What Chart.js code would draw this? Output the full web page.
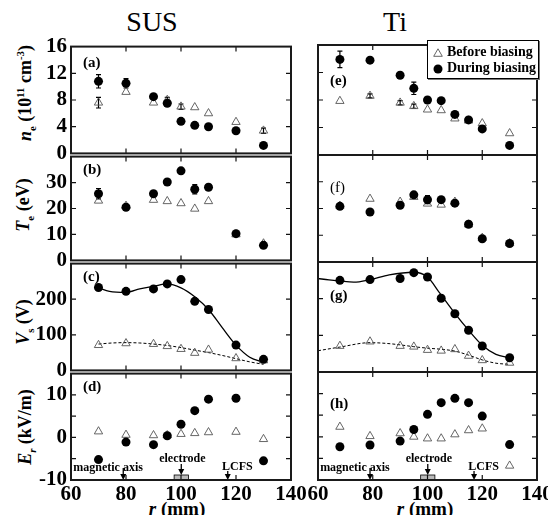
<!DOCTYPE html>
<html>
<head>
<meta charset="utf-8">
<script src="https://cdn.jsdelivr.net/npm/chart.js@4.4.0/dist/chart.umd.min.js"></script>
<style>
  html, body { margin: 0; padding: 0; background: #fff; }
  body { position: relative; width: 548px; height: 515px; overflow: hidden; font-family: 'Liberation Serif', 'Times New Roman', serif; color: #000; }
  canvas { position: absolute; }
  .head { position: absolute; white-space: nowrap; font-size: 28px; line-height: 1; transform: translateX(-50%); }
  .ytitle { position: absolute; white-space: nowrap; font-weight: bold; font-size: 18px; line-height: 1; transform: translate(-50%, -50%) rotate(-90deg); }
  .xtitle { position: absolute; white-space: nowrap; font-weight: bold; font-size: 19px; line-height: 1; transform: translate(-50%, -50%); }
  .plab { position: absolute; font-weight: bold; font-size: 15px; line-height: 1; transform: translateY(-50%); z-index: 5; }
  sub, sup { font-size: 60%; line-height: 0; }
  #legend { position: absolute; left: 427px; top: 40px; width: 110px; height: 37px; border: 1px solid #000; background: #fff; box-shadow: 1px 1px 0 #777; z-index: 10; font-weight: bold; font-size: 14px; }
  #legend div { position: absolute; left: 5px; white-space: nowrap; line-height: 1; }
  #legend svg { vertical-align: middle; margin-right: 4px; }
</style>
</head>
<body>
<div class="head" style="left:152px; top:8px;">SUS</div>
<div class="head" style="left:395px; top:8px;">Ti</div>

<div class="ytitle" style="left:25px; top:93px;"><i>n</i><sub>e</sub> (10<sup>11</sup> cm<sup>-3</sup>)</div>
<div class="ytitle" style="left:23px; top:205px;"><i>T</i><sub>e</sub> (eV)</div>
<div class="ytitle" style="left:23px; top:322px;"><i>V</i><sub>s</sub> (V)</div>
<div class="ytitle" style="left:25px; top:427px;"><i>E<sub>r</sub></i> (kV/m)</div>
<div class="xtitle" style="left:177px; top:508px;"><i>r</i> (mm)</div>
<div class="xtitle" style="left:425px; top:508px;"><i>r</i> (mm)</div>

<div class="plab" style="left:83px; top:62px;">(a)</div>
<div class="plab" style="left:83px; top:169px;">(b)</div>
<div class="plab" style="left:83px; top:276px;">(c)</div>
<div class="plab" style="left:83px; top:386px;">(d)</div>
<div class="plab" style="left:330px; top:80px;">(e)</div>
<div class="plab" style="left:330px; top:187px; font-weight:normal;">(f)</div>
<div class="plab" style="left:330px; top:295px;">(g)</div>
<div class="plab" style="left:330px; top:403px;">(h)</div>

<div id="legend">
  <div style="top:4px;"><svg width="10" height="9"><polygon points="5,0.8 9.3,8.3 0.7,8.3" fill="none" stroke="#555" stroke-width="0.9"/></svg>Before biasing</div>
  <div style="top:20px;"><svg width="10" height="10"><circle cx="5" cy="5" r="4.5" fill="#000"/></svg>During biasing</div>
</div>

<script>
// radial positions of the probe (mm)
const rSUS = [70, 80, 90, 95, 100, 105, 110, 120, 130];
const rTi  = [68, 79, 90, 95, 100, 105, 110, 115, 120, 130];

// electron density (10^11 cm^-3)
const neSusBefore = [7.6, 9.2, 7.6, 8.0, 7.0, 6.9, 6.0, 4.7, 3.4];
const neSusDuring = [10.8, 10.5, 8.5, 7.5, 4.8, 4.2, 4.0, 3.4, 1.2];
const neTiBefore  = [7.85, 8.6, 7.6, 7.1, 6.6, 6.5, 5.3, 5.0, 4.6, 3.15];
const neTiDuring  = [13.9, 13.8, 11.6, 9.7, 8.0, 7.9, 5.9, 5.1, 3.8, 1.4];
const neSusBeforeErr = [0.8, 0, 0, 0.4, 0.4, 0, 0, 0, 0.4];
const neSusDuringErr = [1.0, 0.7, 0, 0, 0, 0, 0, 0, 0];
const neTiBeforeErr  = [0, 0.3, 0.3, 0.3, 0, 0, 0, 0, 0, 0];
const neTiDuringErr  = [1.2, 0, 0, 0.9, 0, 0, 0, 0, 0, 0];

// electron temperature (eV)
const teSusBefore = [23.0, 21.0, 23.3, 22.8, 22.0, 19.9, 22.8, 10.0, 6.5];
const teSusDuring = [25.7, 20.5, 25.7, 30.2, 34.5, 27.4, 28.2, 10.3, 5.8];
const teTiBefore  = [21.0, 23.6, 22.5, 24.3, 21.8, 21.4, 22.5, 14.0, 9.0, 7.0];
const teTiDuring  = [20.8, 18.7, 21.2, 25.1, 23.3, 23.3, 22.0, 14.1, 8.7, 6.9];
const teSusDuringErr = [2.0, 0, 0, 0, 0, 1.8, 0, 0, 0];
const teTiDuringErr  = [0, 0, 0, 0, 1.5, 0, 0, 0, 0, 0];

// space potential (V)
const vsSusBefore = [71, 76, 74, 68, 60, 49, 58, 34, 28];
const vsSusDuring = [233, 222, 229, 243, 255, 194, 171, 71, 31];
const vsTiBefore  = [71, 83, 71, 69, 60, 58, 62, 44, 32, 25];
const vsTiDuring  = [250, 252, 255, 271, 259, 201, 159, 114, 71, 39];

// fitted curves of the space potential
const fitSusDuringR = [70, 74, 80, 85, 90, 95, 100, 105, 110, 115, 120, 125, 130];
const fitSusDuringV = [232, 222, 219, 229, 236, 243, 232, 207, 171, 120, 71, 37, 23];
const fitSusBeforeR = [70, 75, 80, 85, 90, 95, 100, 105, 110, 115, 120, 125, 130];
const fitSusBeforeV = [74, 77, 78, 77, 74, 70, 64, 57, 50, 42, 33, 24, 17];
const fitTiDuringR  = [60, 64, 68, 73, 79, 86, 95, 100, 104.5, 110, 115, 120, 125, 130];
const fitTiDuringV  = [255, 251, 248, 245, 252, 265, 272, 259, 215, 160, 114, 73, 48, 39];
const fitTiBeforeR  = [60, 68, 79, 85, 90, 95, 100, 105, 110, 115, 120, 125, 130];
const fitTiBeforeV  = [58, 68, 80, 78, 74, 69, 65, 62, 57, 46, 33, 24, 21];

// radial electric field (kV/m)
const erSusBefore = [1.4, 0.6, 0.5, 0.5, 0.8, 1.0, 1.2, 1.3, -0.4];
const erSusDuring = [-5.2, -1.1, -1.7, 0.4, 3.1, 6.3, 9.0, 9.2, -5.5];
const erTiBefore  = [2.3, 0.15, 0.8, 0.0, -0.4, -0.4, 0.55, 1.5, 1.9, -6.7];
const erTiDuring  = [-2.3, -1.9, -1.0, 1.7, 5.2, 7.9, 8.9, 7.9, 4.8, -1.8];

// landmarks (mm)
const magneticAxisR = 79;
const electrodeR = [97.5, 102.7];
const lcfsR = 117;

// axes
const xTicks = [60, 140, 20];
const yTicks = [[0, 16, 4], [0, 40, 10], [0, 300, 100], [-10, 15, 5]];
const yLabelShown = [
  v => true,
  v => v !== 40,
  v => v !== 300,
  v => v % 10 === 0
];

Chart.defaults.font.family = "'Liberation Serif', 'Times New Roman', serif";
Chart.defaults.color = '#000';

const pts = (xs, ys) => xs.map((x, i) => ({ x: x, y: ys[i] }));

// inward tick marks and heavy frame
const framePlugin = {
  id: 'frame',
  afterDraw(chart) {
    const { ctx, chartArea: a, scales } = chart;
    const len = 5;
    ctx.save();
    ctx.strokeStyle = '#111';
    ctx.lineWidth = 1.2;
    ctx.beginPath();
    scales.x.ticks.forEach(t => {
      const px = scales.x.getPixelForValue(t.value);
      if (px <= a.left + 1 || px >= a.right - 1) return;
      ctx.moveTo(px, a.top); ctx.lineTo(px, a.top + len);
      ctx.moveTo(px, a.bottom); ctx.lineTo(px, a.bottom - len);
    });
    scales.y.ticks.forEach(t => {
      const py = scales.y.getPixelForValue(t.value);
      if (py <= a.top + 1 || py >= a.bottom - 1) return;
      ctx.moveTo(a.left, py); ctx.lineTo(a.left + len, py);
      ctx.moveTo(a.right, py); ctx.lineTo(a.right - len, py);
    });
    ctx.stroke();
    ctx.lineWidth = 2;
    ctx.strokeStyle = '#1a1a1a';
    ctx.strokeRect(a.left, a.top, a.right - a.left, a.bottom - a.top);
    ctx.restore();
  }
};

// vertical error bars from dataset.err
const errPlugin = {
  id: 'errbars',
  beforeDatasetsDraw(chart) {
    const { ctx, scales } = chart;
    ctx.save();
    ctx.strokeStyle = '#000';
    ctx.lineWidth = 1.2;
    chart.data.datasets.forEach(ds => {
      if (!ds.err) return;
      ds.data.forEach((p, i) => {
        const e = ds.err[i];
        if (!e) return;
        const px = scales.x.getPixelForValue(p.x);
        const y1 = scales.y.getPixelForValue(p.y - e);
        const y2 = scales.y.getPixelForValue(p.y + e);
        ctx.beginPath();
        ctx.moveTo(px, y1); ctx.lineTo(px, y2);
        ctx.moveTo(px - 2.5, y1); ctx.lineTo(px + 2.5, y1);
        ctx.moveTo(px - 2.5, y2); ctx.lineTo(px + 2.5, y2);
        ctx.stroke();
      });
    });
    ctx.restore();
  }
};

// magnetic axis / electrode / LCFS markers
function arrowDown(ctx, x, yTop, yTip) {
  ctx.beginPath();
  ctx.moveTo(x, yTop); ctx.lineTo(x, yTip - 5);
  ctx.stroke();
  ctx.beginPath();
  ctx.moveTo(x - 3, yTip - 6); ctx.lineTo(x + 3, yTip - 6); ctx.lineTo(x, yTip);
  ctx.closePath();
  ctx.fill();
}
const markPlugin = {
  id: 'marks',
  afterDatasetsDraw(chart) {
    const { ctx, chartArea: a, scales } = chart;
    const sx = v => scales.x.getPixelForValue(v);
    ctx.save();
    ctx.fillStyle = '#000';
    ctx.strokeStyle = '#000';
    ctx.lineWidth = 1.3;
    ctx.font = "bold 12px 'Liberation Serif', serif";
    ctx.textAlign = 'center';
    ctx.textBaseline = 'alphabetic';
    ctx.fillText('magnetic axis', sx(73.5), a.bottom - 9);
    arrowDown(ctx, sx(magneticAxisR), a.bottom - 12, a.bottom);
    ctx.fillText('electrode', sx(100.5), a.bottom - 18);
    const rl = sx(electrodeR[0]), rr = sx(electrodeR[1]);
    arrowDown(ctx, sx((electrodeR[0] + electrodeR[1]) / 2), a.bottom - 16, a.bottom - 5);
    ctx.fillStyle = '#bbb';
    ctx.fillRect(rl, a.bottom - 5, rr - rl, 5);
    ctx.lineWidth = 0.8;
    ctx.strokeRect(rl, a.bottom - 5, rr - rl, 5);
    ctx.fillStyle = '#000';
    ctx.lineWidth = 1.3;
    ctx.fillText('LCFS', sx(120.5), a.bottom - 10);
    arrowDown(ctx, sx(lcfsR), a.bottom - 9, a.bottom);
    ctx.restore();
  }
};

const colLeft = [71, 318], colRight = [291, 537];
const canvasLeft = [0, 300], canvasWidth = [330, 270];
const rowTop = [45, 155, 262, 372], rowBottom = [155, 262, 372, 480];

const panels = [
  { col: 0, row: 0, r: rSUS, before: neSusBefore, during: neSusDuring, errB: neSusBeforeErr, errD: neSusDuringErr },
  { col: 0, row: 1, r: rSUS, before: teSusBefore, during: teSusDuring, errD: teSusDuringErr },
  { col: 0, row: 2, r: rSUS, before: vsSusBefore, during: vsSusDuring,
    fitD: [fitSusDuringR, fitSusDuringV], fitB: [fitSusBeforeR, fitSusBeforeV] },
  { col: 0, row: 3, r: rSUS, before: erSusBefore, during: erSusDuring },
  { col: 1, row: 0, r: rTi, before: neTiBefore, during: neTiDuring, errB: neTiBeforeErr, errD: neTiDuringErr },
  { col: 1, row: 1, r: rTi, before: teTiBefore, during: teTiDuring, errD: teTiDuringErr },
  { col: 1, row: 2, r: rTi, before: vsTiBefore, during: vsTiDuring,
    fitD: [fitTiDuringR, fitTiDuringV], fitB: [fitTiBeforeR, fitTiBeforeV] },
  { col: 1, row: 3, r: rTi, before: erTiBefore, during: erTiDuring }
];

panels.forEach(p => {
  const last = p.row === 3;
  const top = rowTop[p.row] - 15;
  const height = last ? 530 - top : rowBottom[p.row] - rowTop[p.row] + 30;
  const xh = last ? 530 - rowBottom[p.row] : 15;
  const yw = colLeft[p.col] - canvasLeft[p.col];
  const padR = canvasLeft[p.col] + canvasWidth[p.col] - colRight[p.col];

  const cv = document.createElement('canvas');
  cv.width = canvasWidth[p.col];
  cv.height = height;
  cv.style.left = canvasLeft[p.col] + 'px';
  cv.style.top = top + 'px';
  cv.style.width = canvasWidth[p.col] + 'px';
  cv.style.height = height + 'px';
  document.body.appendChild(cv);

  const datasets = [
    { label: 'During biasing', data: pts(p.r, p.during), err: p.errD, order: 0,
      pointStyle: 'circle', pointRadius: 4.5, backgroundColor: '#000', borderColor: '#000', borderWidth: 0 },
    { label: 'Before biasing', data: pts(p.r, p.before), err: p.errB, order: 1,
      pointStyle: 'triangle', pointRadius: 4.8, backgroundColor: 'rgba(0,0,0,0)', borderColor: '#555', borderWidth: 0.9 }
  ];
  if (p.fitD) {
    datasets.push({ data: pts(p.fitD[0], p.fitD[1]), showLine: true, pointRadius: 0, order: 2,
      borderColor: '#000', borderWidth: 1.3, cubicInterpolationMode: 'monotone' });
    datasets.push({ data: pts(p.fitB[0], p.fitB[1]), showLine: true, pointRadius: 0, order: 3,
      borderColor: '#000', borderWidth: 1, borderDash: [3, 2], cubicInterpolationMode: 'monotone' });
  }

  const yt = yTicks[p.row];
  const plugins = [errPlugin, framePlugin];
  if (last) plugins.push(markPlugin);

  new Chart(cv, {
    type: 'scatter',
    data: { datasets: datasets },
    plugins: plugins,
    options: {
      responsive: false,
      animation: false,
      devicePixelRatio: 1,
      layout: { padding: { left: 0, right: padR, top: 15, bottom: 0 } },
      plugins: { legend: { display: false }, tooltip: { enabled: false } },
      scales: {
        x: {
          type: 'linear', min: xTicks[0], max: xTicks[1],
          grid: { display: false, drawTicks: false },
          border: { display: false },
          ticks: { display: last, stepSize: xTicks[2], padding: 2, autoSkip: false,
                   font: { size: 21, weight: 'bold' }, maxRotation: 0 },
          afterFit: s => { s.height = xh; }
        },
        y: {
          type: 'linear', min: yt[0], max: yt[1],
          grid: { display: false, drawTicks: false },
          border: { display: false },
          ticks: { display: p.col === 0, stepSize: yt[2], padding: 4, autoSkip: false,
                   font: { size: 21, weight: 'bold' },
                   callback: v => (yLabelShown[p.row](v) ? String(v) : '') },
          afterFit: s => { s.width = yw; }
        }
      }
    }
  });
});
</script>
</body>
</html>
